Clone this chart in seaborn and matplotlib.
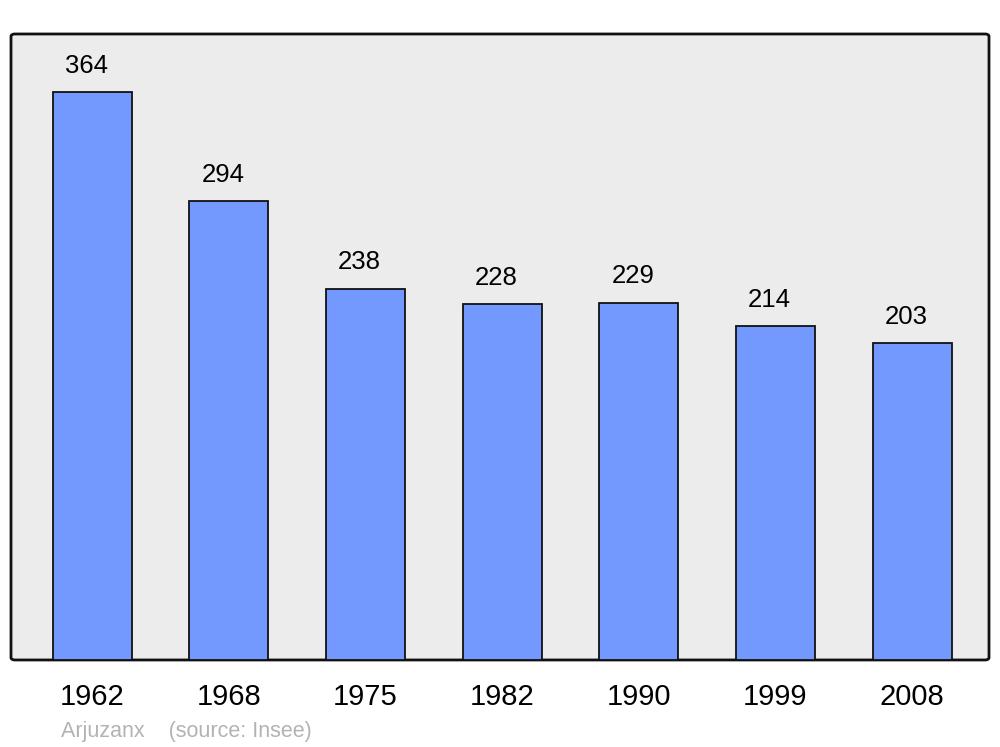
import matplotlib
matplotlib.use("Agg")
import matplotlib.pyplot as plt
import seaborn as sns
import pandas as pd
from matplotlib.patches import FancyBboxPatch

years = ["1962", "1968", "1975", "1982", "1990", "1999", "2008"]
population = [364, 294, 238, 228, 229, 214, 203]
commune = "Arjuzanx"
source = "(source: Insee)"

sns.set_theme(style="white")
plt.rcParams["font.family"] = ["Liberation Sans", "DejaVu Sans"]

df = pd.DataFrame({"year": years, "pop": population})

fig = plt.figure(figsize=(10, 7.47), dpi=100)
ax = fig.add_axes([0.011, 0.1165, 0.978, 0.838])
ax.set_facecolor("none")

# rounded background frame
frame = FancyBboxPatch((0, 0), 1, 1, boxstyle="round,pad=0,rounding_size=0.004",
                       transform=ax.transAxes, facecolor="#ececec", edgecolor="#111111",
                       linewidth=2, zorder=0, clip_on=False)
ax.add_patch(frame)

sns.barplot(data=df, x="year", y="pop", color="#7399ff", saturation=1,
            width=0.578, edgecolor="#111111", linewidth=1.3, ax=ax, zorder=2)

for spine in ax.spines.values():
    spine.set_visible(False)

ax.set_xlim(-0.593, 6.563)
ax.set_ylim(0, 401.2)
ax.set_yticks([])
ax.set_xlabel("")
ax.set_ylabel("")
ax.tick_params(axis="x", length=0, pad=16.5, labelsize=21, labelcolor="black")

for i, v in enumerate(population):
    ax.annotate(str(v), xy=(i, v), xytext=(-4.2, 19), textcoords="offset points",
                ha="center", va="center", fontsize=18.5, color="black")

fig.text(0.061, 0.0134, commune + "    " + source, ha="left", va="baseline",
         fontsize=15.5, color="#b3b3b3")

fig.savefig("out.png", dpi=100, facecolor="white")
